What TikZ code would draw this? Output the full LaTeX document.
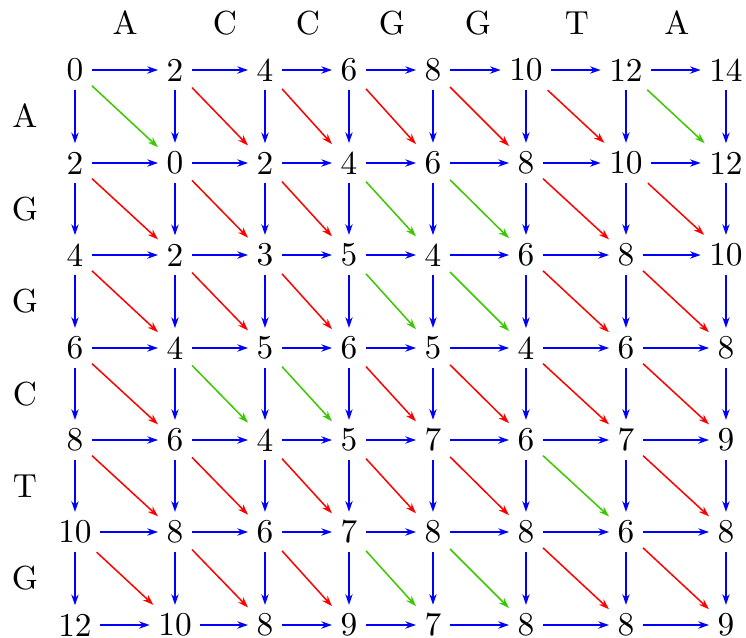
\documentclass[tikz,border=0pt]{standalone}
\usetikzlibrary{arrows.meta}
\definecolor{matchgreen}{RGB}{60,200,0}
\tikzset{
  num/.style={inner sep=2.4pt, font=\fontsize{10}{12}\selectfont},
  lab/.style={inner sep=0pt, font=\fontsize{10}{12}\selectfont},
  arr/.style={line width=0.45pt, -{Stealth[length=3.2pt,width=2.2pt]}},
  hv/.style={arr, blue},
  mis/.style={arr, red},
  mat/.style={arr, matchgreen}
}
\begin{document}
\begin{tikzpicture}[x=0.3pt,y=-0.3pt]
\useasboundingbox (0,0) rectangle (746,638);
\def\xs{{75,175,265,349,433,526,626,726}}
\def\ys{{70,163,255,348,440,532,625}}
\def\vals{{{0,2,4,6,8,10,12,14},{2,0,2,4,6,8,10,12},{4,2,3,5,4,6,8,10},{6,4,5,6,5,4,6,8},{8,6,4,5,7,6,7,9},{10,8,6,7,8,8,6,8},{12,10,8,9,7,8,8,9}}}
\foreach \r in {0,...,6}{
  \foreach \c in {0,...,7}{
    \pgfmathsetmacro{\px}{\xs[\c]}
    \pgfmathsetmacro{\py}{\ys[\r]}
    \pgfmathtruncatemacro{\v}{\vals[\r][\c]}
    \node[num] (n-\r-\c) at (\px,\py) {\v};
  }
}
% top letters
\foreach \L/\xx [count=\i from 0] in {A/125,C/225,C/308,G/392,G/478,T/577,A/677} {
  \node[lab] (t-\i) at (\xx,23) {\L};
}
\foreach \L/\yy [count=\i from 0] in {A/116,G/209,G/301,C/394,T/486,G/578} {
  \node[lab] (s-\i) at (25,\yy) {\L};
}
% horizontal arrows
\foreach \r in {0,...,6}{
  \foreach \c [evaluate=\c as \d using int(\c+1)] in {0,...,6}{
    \draw[hv] (n-\r-\c) -- (n-\r-\d);
  }
}
% vertical arrows
\foreach \r [evaluate=\r as \s using int(\r+1)] in {0,...,5}{
  \foreach \c in {0,...,7}{
    \draw[hv] (n-\r-\c) -- (n-\s-\c);
  }
}
% diagonal arrows
\foreach \r/\rc in {0/A,1/G,2/G,3/C,4/T,5/G}{
  \foreach \c/\cc in {0/A,1/C,2/C,3/G,4/G,5/T,6/A}{
    \pgfmathtruncatemacro{\s}{\r+1}
    \pgfmathtruncatemacro{\d}{\c+1}
    \ifx\rc\cc
      \draw[mat] (n-\r-\c) -- (n-\s-\d);
    \else
      \draw[mis] (n-\r-\c) -- (n-\s-\d);
    \fi
  }
}
\end{tikzpicture}
\end{document}
